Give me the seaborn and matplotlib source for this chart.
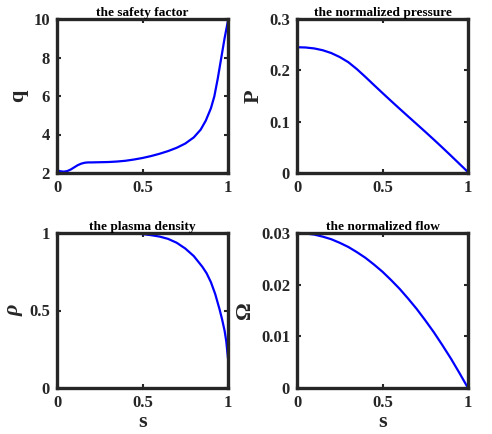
import matplotlib
matplotlib.use("Agg")
import matplotlib.pyplot as plt
import seaborn as sns
import pandas as pd

# ---- data ----
s_q = [0, 0.02, 0.04, 0.06, 0.08, 0.1, 0.12, 0.14, 0.16, 0.18, 0.2, 0.25, 0.3, 0.35,
       0.4, 0.45, 0.5, 0.55, 0.6, 0.65, 0.7, 0.75, 0.8, 0.84, 0.87, 0.9, 0.92, 0.94,
       0.96, 0.98, 1.0]
q_vals = [2.14, 2.09, 2.07, 2.10, 2.18, 2.29, 2.40, 2.48, 2.53, 2.55, 2.55, 2.56, 2.57,
          2.595, 2.635, 2.70, 2.78, 2.88, 3.00, 3.14, 3.31, 3.53, 3.85, 4.25, 4.72, 5.36,
          5.98, 6.90, 7.95, 9.00, 9.92]

s_p = [0, 0.05, 0.1, 0.15, 0.2, 0.25, 0.3, 0.35, 0.4, 0.45, 0.5, 0.55, 0.6, 0.65, 0.7,
       0.75, 0.8, 0.85, 0.9, 0.95, 1.0]
p_vals = [0.245, 0.2445, 0.2427, 0.2392, 0.2337, 0.2259, 0.2159, 0.2024, 0.1872, 0.1714,
          0.1558, 0.1404, 0.1252, 0.1102, 0.0953, 0.0803, 0.0651, 0.0496, 0.0338, 0.0178,
          0.0018]

s_rho = [0, 0.1, 0.2, 0.3, 0.4, 0.45, 0.5, 0.55, 0.6, 0.65, 0.7, 0.75, 0.8, 0.85,
         0.875, 0.9, 0.925, 0.95, 0.965, 0.98, 0.99, 1.0]
rho_vals = [1.0, 1.0, 1.0, 1.0, 0.999, 0.997, 0.993, 0.986, 0.977, 0.962, 0.937, 0.900,
            0.851, 0.782, 0.740, 0.683, 0.607, 0.510, 0.445, 0.370, 0.300, 0.190]

s_om = [0, 0.05, 0.1, 0.15, 0.2, 0.25, 0.3, 0.35, 0.4, 0.45, 0.5, 0.55, 0.6, 0.65, 0.7,
        0.75, 0.8, 0.85, 0.9, 0.95, 1.0]
om_vals = [0.0300, 0.0299, 0.0297, 0.0293, 0.0288, 0.0281, 0.0273, 0.0263, 0.0252, 0.0239,
           0.0225, 0.0209, 0.0192, 0.0173, 0.0153, 0.0131, 0.0108, 0.0083, 0.0057, 0.0029,
           0.0]

titles = ["the safety factor", "the normalized pressure", "the plasma density",
          "the normalized flow"]
ylabels = ["q", "P", "\u03c1", "\u03a9"]
yticks = [[2, 4, 6, 8, 10], [0, 0.1, 0.2, 0.3], [0, 0.5, 1], [0, 0.01, 0.02, 0.03]]
yticklabels = [["2", "4", "6", "8", "10"], ["0", "0.1", "0.2", "0.3"],
               ["0", "0.5", "1"], ["0", "0.01", "0.02", "0.03"]]
xticks = [0, 0.5, 1]
xticklabels = ["0", "0.5", "1"]
xlabel = "s"

sns.set_style("white")
plt.rcParams["font.family"] = ["Liberation Serif", "DejaVu Serif"]
plt.rcParams["font.weight"] = "bold"

fig = plt.figure(figsize=(4.92, 4.34), dpi=100)
W, H = 492, 434
boxes = [(57, 19, 171, 154), (297, 19, 171, 154), (57, 233, 171, 155), (297, 233, 171, 155)]
series = [(s_q, q_vals), (s_p, p_vals), (s_rho, rho_vals), (s_om, om_vals)]
dark = "#262626"

for i, ((x0, y0, w, h), (sx, sy)) in enumerate(zip(boxes, series)):
    ax = fig.add_axes([x0 / W, 1 - (y0 + h) / H, w / W, h / H])
    df = pd.DataFrame({"s": sx, "v": sy})
    sns.lineplot(data=df, x="s", y="v", ax=ax, color="#0000ff", linewidth=1.6)
    ax.set_xlim(0, 1)
    ax.set_ylim(yticks[i][0], yticks[i][-1])
    ax.set_xticks(xticks)
    ax.set_yticks(yticks[i])
    ax.set_yticklabels(yticklabels[i], fontsize=12, fontweight="bold", color=dark)
    ax.set_xticklabels(xticklabels, fontsize=12, fontweight="bold", color=dark)
    ax.set_title(titles[i], fontsize=9.6, fontweight="bold", pad=2, color="black")
    if i >= 2:
        ax.set_xlabel(xlabel, fontsize=16, fontweight="bold", labelpad=1, color=dark)
    else:
        ax.set_xlabel("")
    style = "italic" if i == 2 else "normal"
    ax.set_ylabel(ylabels[i], fontsize=16, fontweight="bold", style=style, labelpad=4,
                  color=dark)
    for sp in ax.spines.values():
        sp.set_visible(True)
        sp.set_color(dark)
        sp.set_linewidth(2.4)
    ax.tick_params(direction="in", length=3, width=1.5, color=dark, top=True, right=True,
                   bottom=True, left=True, pad=5)

fig.savefig("out.png", dpi=100)
